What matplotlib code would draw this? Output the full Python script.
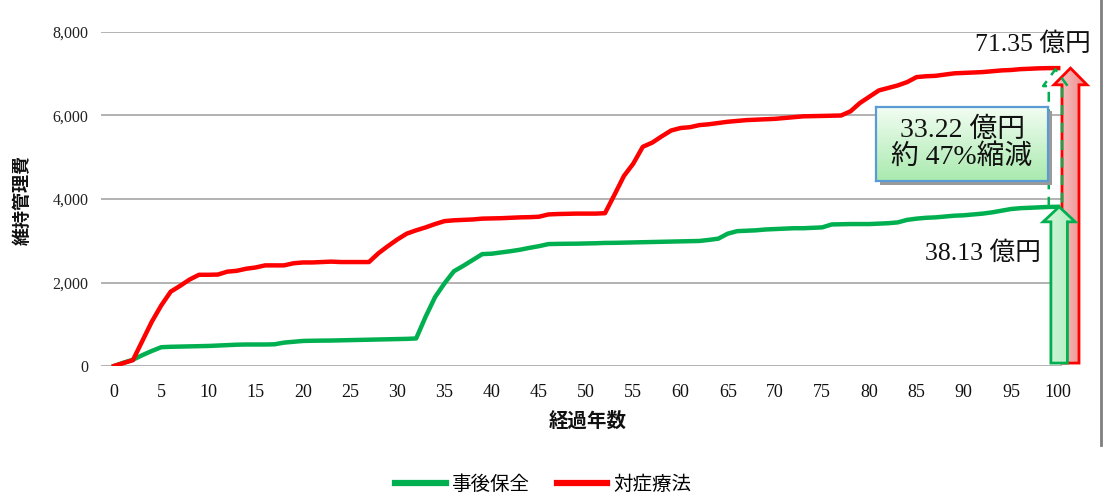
import matplotlib
matplotlib.use('Agg')
import matplotlib.pyplot as plt
import numpy as np
from matplotlib.patches import Polygon, Rectangle
from matplotlib.lines import Line2D

# ---------------- data ----------------
years = list(range(0, 101))
series_names = ['事後保全', '対症療法']
jigo_hozen = [
    0, 80, 150, 260, 360, 450, 460, 465, 470, 475,
    480, 490, 500, 510, 515, 515, 515, 520, 560, 580,
    600, 605, 608, 610, 615, 620, 625, 630, 635, 640,
    645, 650, 660, 1180, 1650, 1980, 2270, 2400, 2540, 2680,
    2690, 2720, 2750, 2785, 2830, 2870, 2920, 2925, 2928, 2930,
    2935, 2940, 2948, 2950, 2955, 2960, 2965, 2970, 2975, 2980,
    2985, 2990, 2995, 3020, 3050, 3170, 3230, 3240, 3250, 3270,
    3280, 3290, 3300, 3300, 3310, 3320, 3390, 3395, 3400, 3400,
    3400, 3410, 3420, 3440, 3500, 3530, 3550, 3560, 3580, 3600,
    3610, 3630, 3650, 3680, 3720, 3760, 3780, 3790, 3800, 3810,
    3813]
taisho_ryoho = [
    0, 70, 140, 600, 1060, 1450, 1780, 1920, 2070, 2185,
    2185, 2190, 2260, 2280, 2330, 2360, 2410, 2410, 2410, 2460,
    2480, 2480, 2490, 2500, 2490, 2490, 2490, 2490, 2700, 2870,
    3030, 3170, 3250, 3320, 3400, 3470, 3490, 3500, 3510, 3530,
    3535, 3540, 3550, 3560, 3565, 3575, 3630, 3640, 3645, 3650,
    3650, 3650, 3660, 4100, 4550, 4850, 5250, 5350, 5500, 5640,
    5700, 5720, 5770, 5790, 5820, 5850, 5870, 5890, 5900, 5910,
    5920, 5940, 5960, 5980, 5985, 5990, 5995, 6000, 6100, 6300,
    6450, 6600, 6660, 6720, 6800, 6920, 6940, 6950, 6980, 7010,
    7020, 7030, 7040, 7060, 7080, 7090, 7110, 7120, 7130, 7135,
    7135]
xticks = list(range(0, 101, 5))
yticks = [0, 2000, 4000, 6000, 8000]
ytick_labels = ['0', '2,000', '4,000', '6,000', '8,000']
total_jigo = 3813      # 38.13 億円
total_taisho = 7135    # 71.35 億円
label_total_taisho = '71.35 億円'
label_total_jigo = '38.13 億円'
label_diff = '33.22 億円\n約 47%縮減'
xlabel = '経過年数'
ylabel = '維持管理費'

GREEN = '#00b050'
RED = '#ff0000'
SERIF = ['Liberation Serif', 'Noto Sans CJK JP']
SANS = ['Noto Sans CJK JP', 'DejaVu Sans']

W, H = 1104, 499
fig = plt.figure(figsize=(W / 100, H / 100), dpi=100)
fig.patch.set_facecolor('white')


def fx(px):
    return px / W


def fy(py):
    return 1 - py / H


ax = fig.add_axes([fx(100.8), fy(366), fx(1062) - fx(100.8), fy(32) - fy(366)])
ax.set_xlim(-1.4, 100.4)
ax.set_ylim(0, 8000)
for s in ax.spines.values():
    s.set_visible(False)
ax.set_yticks(yticks)
ax.set_yticklabels(ytick_labels)
ax.set_xticks(xticks)
ax.grid(axis='y', color='#a6a6a6', lw=1.2)
ax.set_axisbelow(True)
ax.tick_params(axis='both', length=0)
ax.tick_params(axis='y', pad=9)
ax.tick_params(axis='x', pad=13)
for lab in ax.get_yticklabels():
    lab.set_fontfamily(SERIF)
    lab.set_fontsize(11.5)
    lab.set_color('#222222')
for lab in ax.get_xticklabels():
    lab.set_fontfamily(SERIF)
    lab.set_fontsize(13)
    lab.set_color('#111111')

ax.plot(years, jigo_hozen, color=GREEN, lw=3.2, solid_joinstyle='round', zorder=3)
ax.plot(years, taisho_ryoho, color=RED, lw=3.2, solid_joinstyle='round', zorder=3)


def arrow_poly(xc, shaft_w, head_w, y0, y1, head_len):
    return [(xc - shaft_w / 2, y0), (xc - shaft_w / 2, y1 - head_len),
            (xc - head_w / 2, y1 - head_len), (xc, y1),
            (xc + head_w / 2, y1 - head_len), (xc + shaft_w / 2, y1 - head_len),
            (xc + shaft_w / 2, y0)]


def gradient_fill(poly_pts, c_left, c_right, z):
    patch = Polygon(poly_pts, closed=True, facecolor='none', edgecolor='none',
                    transform=ax.transData)
    ax.add_patch(patch)
    patch.set_clip_on(False)
    xs = [p[0] for p in poly_pts]
    ys = [p[1] for p in poly_pts]
    c1 = np.array(matplotlib.colors.to_rgb(c_left))
    c2 = np.array(matplotlib.colors.to_rgb(c_right))
    tcol = np.linspace(0, 1, 64)
    img = (c1[None, None, :] * (1 - tcol[None, :, None]) + c2[None, None, :] * tcol[None, :, None])
    img = np.repeat(img, 4, axis=0)
    im = ax.imshow(img, extent=(min(xs), max(xs), min(ys), max(ys)), aspect='auto',
                   origin='lower', zorder=z, interpolation='bilinear')
    im.set_clip_box(fig.bbox)
    im.set_clip_path(patch)
    return im


# red arrow (対症療法 total)
red_pts = arrow_poly(101.3, 1.8, 3.5, 70, total_taisho, 400)
gradient_fill(red_pts, '#f8cccc', '#ee8888', 5)
ax.add_patch(Polygon(red_pts, closed=True, facecolor='none', edgecolor=RED, lw=2,
                     zorder=6, clip_on=False, joinstyle='miter'))

# dashed green arrow (reduction)
dash_pts = arrow_poly(99.7, 1.4, 2.6, total_jigo, total_taisho - 30, 400)
ax.add_line(Line2D([p[0] for p in dash_pts], [p[1] for p in dash_pts],
                   color=GREEN, lw=1.8, ls=(0, (4, 3)), zorder=6, clip_on=False))

# green arrow (事後保全 total)
green_pts = arrow_poly(100.1, 1.75, 3.4, 70, total_jigo, 360)
gradient_fill(green_pts, '#d6f7dc', '#b0ecbd', 7)
ax.add_patch(Polygon(green_pts, closed=True, facecolor='none', edgecolor=GREEN, lw=2,
                     zorder=8, clip_on=False, joinstyle='miter'))

ax.set_xlim(-1.4, 100.4)
ax.set_ylim(0, 8000)

# value labels
fig.text(fx(1033), fy(44), label_total_taisho, ha='center', va='center',
         fontsize=18.5, family=SERIF, color='#111111')
fig.text(fx(983), fy(253), label_total_jigo, ha='center', va='center',
         fontsize=18.5, family=SERIF, color='#111111')

# reduction box with shadow + gradient
bx0, bx1, by0, by1 = 876, 1048, 107, 181
fig.patches.append(Rectangle((fx(bx0 + 4), fy(by1 + 4)), fx(bx1) - fx(bx0), fy(by0) - fy(by1),
                             transform=fig.transFigure, facecolor='#9a9a9a', edgecolor='none',
                             zorder=9))
bax = fig.add_axes([fx(bx0), fy(by1), fx(bx1) - fx(bx0), fy(by0) - fy(by1)], zorder=10)
grad = np.linspace(0, 1, 64)[:, None]
c_top = np.array(matplotlib.colors.to_rgb('#f2fdf2'))
c_bot = np.array(matplotlib.colors.to_rgb('#a9eaae'))
gimg = c_top[None, None, :] * (1 - grad[:, :, None]) + c_bot[None, None, :] * grad[:, :, None]
gimg = np.repeat(gimg, 4, axis=1)
bax.imshow(gimg, aspect='auto', extent=(0, 1, 0, 1), origin='upper')
bax.set_xticks([])
bax.set_yticks([])
for s in bax.spines.values():
    s.set_color('#5b9bd5')
    s.set_linewidth(1.6)
bax.text(0.5, 0.5, label_diff, ha='center', va='center', fontsize=20, family=SERIF,
         color='#111111', linespacing=1.05, transform=bax.transAxes)

# axis labels
fig.text(fx(22), fy(200), ylabel, rotation=90, ha='center', va='center',
         fontsize=13, fontweight='bold', family=SANS, color='#111111')
fig.text(fx(588), fy(421), xlabel, ha='center', va='center',
         fontsize=14, fontweight='bold', family=SANS, color='#111111')

# legend
handles = [Line2D([], [], color=GREEN, lw=4.5), Line2D([], [], color=RED, lw=4.5)]
leg = fig.legend(handles, series_names, loc='center', bbox_to_anchor=(fx(543), fy(484)),
                 ncol=2, frameon=False, handlelength=2.6, handletextpad=0.3,
                 columnspacing=1.4, prop={'family': SANS, 'size': 14})

# right border of chart area
fig.add_artist(Line2D([fx(1101), fx(1101)], [fy(0), fy(445)], color='#7f7f7f', lw=2,
                      transform=fig.transFigure))

fig.savefig('out.png', dpi=100, facecolor='white')
